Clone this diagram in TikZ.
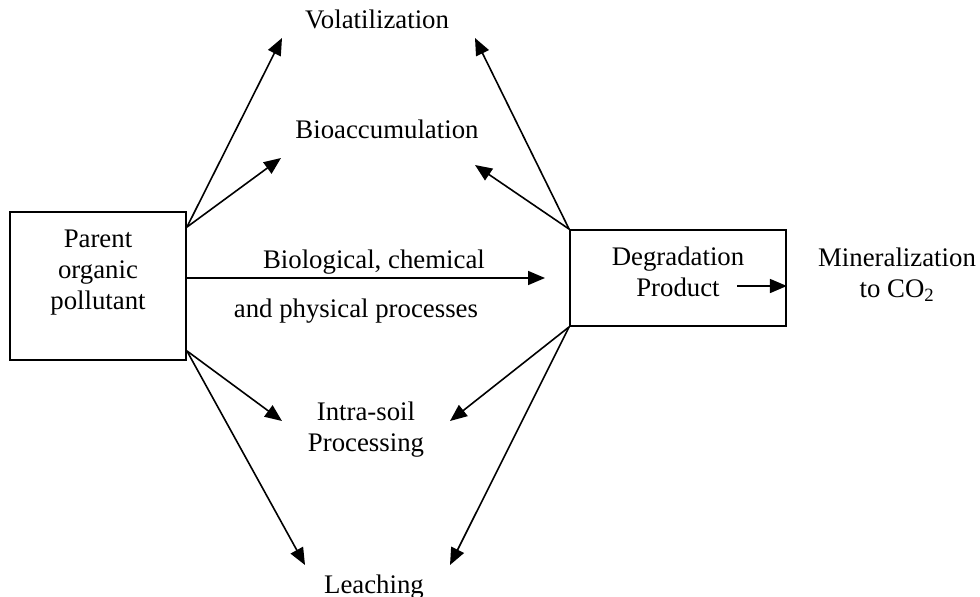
\documentclass[tikz,border=0pt]{standalone}
\usepackage{fontspec}
\setmainfont{Liberation Serif}
\usetikzlibrary{arrows.meta}
\usetikzlibrary{calc}
\usetikzlibrary{positioning}

\tikzset{
  box/.style={draw, line width=1.8pt, inner sep=0pt},
  lbl/.style={font=\fontsize{26.8}{31}\selectfont, inner sep=0pt, align=center},
  flow/.style={line width=1.6pt, -{Triangle[length=17pt,width=14pt]}}
}

\begin{document}
\begin{tikzpicture}[x=1pt, y=-1pt]
        \useasboundingbox (0,0) rectangle (980,597);
        % the two boxes, text set near the top
        \node [box, minimum width=176pt, minimum height=148pt,
               label={[lbl, anchor=north, yshift=-18.5pt]north:Parent\\organic\\pollutant}]
               (parent) at (98,286) {};
        \node [box, minimum width=216pt, minimum height=96pt,
               label={[lbl, anchor=north, yshift=-17.5pt]north:Degradation\\Product}]
               (degr) at (678,278) {};
        % fates
        \node [lbl, anchor=base] (volat) at (377,28) {Volatilization};
        \node [lbl, anchor=base] (bioacc) at (387,138) {Bioaccumulation};
        \node [lbl, anchor=north] (intra) at (366,402) {Intra-soil\\Processing};
        \node [lbl, anchor=base] (leach) at (374,593) {Leaching};
        \node [lbl, anchor=north] (miner) at (897,247.5) {Mineralization\\to CO\textsubscript{2}};
        % arrow tips
        \coordinate (volatL) at (282,38);
        \coordinate (bioaccL) at (281,158);
        \coordinate (intraL) at (282,421);
        \coordinate (leachL) at (305,565);
        \coordinate (volatR) at (475,38);
        \coordinate (bioaccR) at (475,165);
        \coordinate (intraR) at (450,421);
        \coordinate (leachR) at (450,565);
        \coordinate (processTip) at (545,278);
        \coordinate (minerTail) at (737,286);
        % arrow tails on the parent box
        \coordinate (parentUp) at ($(parent.north east)+(0,16)$);
        \coordinate (parentDown) at ($(parent.south east)+(0,-10)$);
        \draw [flow] (parentUp) -- (volatL);
        \draw [flow] (parentUp) -- (bioaccL);
        \draw [flow] (parentDown) -- (intraL);
        \draw [flow] (parentDown) -- (leachL);
        \draw [flow] (degr.north west) -- (volatR);
        \draw [flow] (degr.north west) -- (bioaccR);
        \draw [flow] (degr.south west) -- (intraR);
        \draw [flow] (degr.south west) -- (leachR);
        \draw [flow] ($(parent.east)+(0,-8)$) -- (processTip)
            node [lbl, anchor=base, pos=0.5, xshift=8pt, yshift=10pt] (procA) {Biological, chemical}
            node [lbl, anchor=base, pos=0.5, xshift=-10pt, yshift=-39pt] (procB) {and physical processes};
        \draw [flow] (minerTail) -- (minerTail -| degr.east);
    \end{tikzpicture}
\end{document}
